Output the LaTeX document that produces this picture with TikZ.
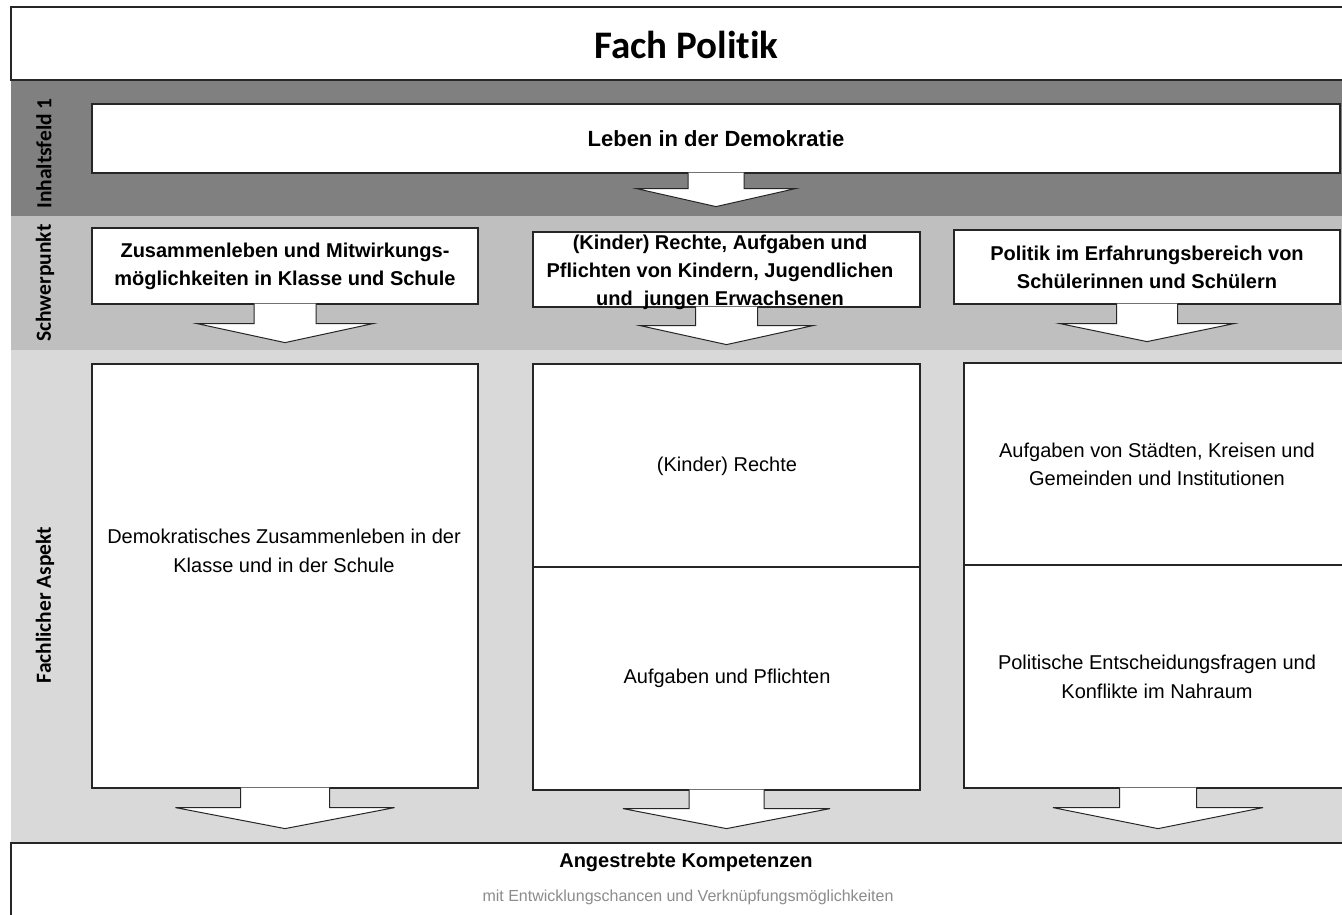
\documentclass[tikz,border=0pt]{standalone}
\usepackage{fontspec}
\setmainfont{Liberation Sans}
\newfontfamily\calibri[Ligatures={NoCommon,NoDiscretionary,NoRare,NoContextual}]{Carlito}
\usetikzlibrary{calc}

\definecolor{Dunkel}{HTML}{808080}
\definecolor{Mittel}{HTML}{BFBFBF}
\definecolor{Hell}{HTML}{D9D9D9}
\definecolor{Rand}{HTML}{262626}
\definecolor{Hinweis}{HTML}{8C8C8C}

\tikzset{
  kasten/.style={draw=Rand, fill=white, line width=1.2pt, inner sep=0pt, align=center,
    font=\bfseries\fontsize{20}{28}\selectfont},
  inhalt/.style={align=center, inner sep=0pt, font=\fontsize{20}{28.5}\selectfont},
  seite/.style={rotate=90, inner sep=0pt, font=\calibri\bfseries\fontsize{21.5}{24}\selectfont},
  rahmen/.style={draw=Rand, line width=1.2pt},
  pfeil/.style={draw=Rand, fill=white, line width=1pt, line join=miter}
}

% Pfeil unter einem Kasten: Knoten, halbe Schaftbreite, Schaftlaenge, halbe Spitzenbreite, Spitzenlaenge
\newcommand{\pfeil}[5]{%
  \path (#1.south)
    ++(-#2,-1) coordinate (#1-s1)
    ++(0,#3+1) coordinate (#1-s2)
    ++(#2-#4,0) coordinate (#1-h1)
    ++(#4,#5) coordinate (#1-tip)
    ++(#4,-#5) coordinate (#1-h2)
    ++(#2-#4,0) coordinate (#1-s3)
    ++(0,-#3-1) coordinate (#1-s4);
  \filldraw[pfeil] (#1-s1) -- (#1-s2) -- (#1-h1) -- (#1-tip) -- (#1-h2) -- (#1-s3) -- (#1-s4);
}

\begin{document}
\begin{tikzpicture}[x=1pt, y=-1pt]
  \useasboundingbox (0,0) rectangle (1342,914);
  \clip (0,0) rectangle (1342,914);
  \fill[white] (0,0) rectangle (1342,914);

  %%%%%%%%%% Baender %%%%%%%%%%
  \fill[Dunkel] (11,80) rectangle (1350,216);
  \fill[Mittel] (11,216) rectangle (1350,350);
  \fill[Hell] (11,350) rectangle (1350,843);

  %%%%%%%%%% Rahmen oben und unten %%%%%%%%%%
  \draw[rahmen] (1350,7) -- (11,7) -- (11,80) -- (1350,80);
  \draw[rahmen] (1350,843) -- (11,843) -- (11,920);

  \node[font=\calibri\bfseries\fontsize{39}{44}\selectfont, inner sep=0pt] (titel) at (686.5,44.5) {Fach Poli\kern0pt tik};

  %%%%%%%%%% Seitenbeschriftungen %%%%%%%%%%
  \node[seite] (lblInhalt) at (44,153.5) {Inhaltsfeld 1};
  \node[seite] (lblSchwer) at (45,283) {Schwerpunkt};
  \node[seite] (lblAspekt) at (45,605) {Fachlicher Aspekt};

  %%%%%%%%%% Inhaltsfeld %%%%%%%%%%
  \node[kasten, font=\bfseries\fontsize{22}{26}\selectfont, minimum width=1248pt, minimum height=69pt] (leben) at (716,138.5) {Leben in der Demokratie};
  \pfeil{leben}{28}{15}{79.5}{18}

  %%%%%%%%%% Schwerpunkte %%%%%%%%%%
  \node[kasten, minimum width=386pt, minimum height=76pt] (spA) at (285,266)
    {Zusammenleben und Mitwirkungs-\\m\"oglichkeiten in Klasse und Schule};
  \node[kasten, minimum width=387pt, minimum height=75pt] (spB) at (726.5,269.5) {};
  \node[kasten, minimum width=386pt, minimum height=74pt] (spC) at (1147,267)
    {Politik im Erfahrungsbereich von\\Sch\"ulerinnen und Sch\"ulern};
  \pfeil{spA}{31}{19}{88}{19}
  \pfeil{spB}{31}{18}{86.5}{19}
  \pfeil{spC}{30.5}{19}{87}{18}
  \node[inhalt, font=\bfseries\fontsize{20}{28}\selectfont] (spBtext) at (720,272.5)
    {(Kinder) Rechte, Aufgaben und\\Pflichten von Kindern, Jugendlichen\\und\ \ jungen Erwachsenen};

  %%%%%%%%%% Fachliche Aspekte %%%%%%%%%%
  \node[kasten, minimum width=386pt, minimum height=424pt] (faA) at (285,576) {};
  \node[kasten, minimum width=387pt, minimum height=426pt] (faB) at (726.5,577) {};
  \node[kasten, minimum width=388pt, minimum height=425pt] (faC) at (1158,575.5) {};
  \draw[rahmen] (faB.west |- 0,567) -- (faB.east |- 0,567);
  \draw[rahmen] (faC.west |- 0,565) -- (faC.east |- 0,565);
  \pfeil{faA}{44.5}{19}{109.5}{21}
  \pfeil{faB}{37.5}{18}{103.5}{20}
  \pfeil{faC}{38.5}{19}{105}{21}

  \node[inhalt] (faAtext) at (284,551) {Demokratisches Zusammenleben in der\\Klasse und in der Schule};
  \node[inhalt] (faBoben) at (727,466) {(Kinder) Rechte};
  \node[inhalt] (faBunten) at (727,678) {Aufgaben und Pflichten};
  \node[inhalt] (faCoben) at (1157,464.5) {Aufgaben von St\"adten, Kreisen und\\Gemeinden und Institutionen};
  \node[inhalt] (faCunten) at (1157,677) {Politische Entscheidungsfragen und\\Konflikte im Nahraum};

  %%%%%%%%%% Kompetenzen %%%%%%%%%%
  \node[inner sep=0pt, font=\bfseries\fontsize{20}{24}\selectfont] (kompetenz) at (686,862.5) {Angestrebte Kompetenzen};
  \node[inner sep=0pt, text=Hinweis, font=\fontsize{16}{19}\selectfont] (hinweis) at (688,897)
    {mit Entwicklungschancen und Verkn\"upfungsm\"oglichkeiten};
\end{tikzpicture}
\end{document}
